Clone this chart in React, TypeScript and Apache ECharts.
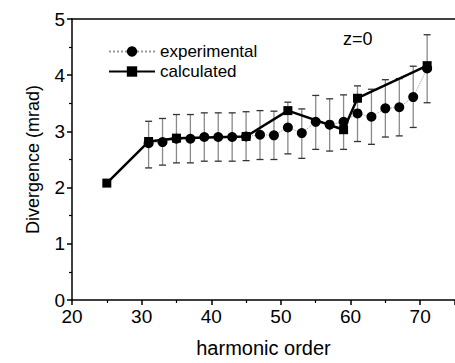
import React, { useEffect, useRef } from "react";
import * as echarts from "echarts";

const expOrders = [31, 33, 35, 37, 39, 41, 43, 45, 47, 49, 51, 53, 55, 57, 59, 61, 63, 65, 67, 69, 71];
const expValues = [2.79, 2.81, 2.87, 2.87, 2.9, 2.9, 2.9, 2.91, 2.94, 2.93, 3.07, 2.97, 3.17, 3.12, 3.17, 3.32, 3.26, 3.41, 3.43, 3.61, 4.12];
const expLow = [2.35, 2.4, 2.44, 2.44, 2.47, 2.47, 2.47, 2.48, 2.5, 2.5, 2.6, 2.52, 2.68, 2.65, 2.68, 2.82, 2.77, 2.9, 2.92, 3.07, 3.51];
const expHigh = [3.18, 3.23, 3.3, 3.3, 3.33, 3.33, 3.33, 3.35, 3.37, 3.36, 3.52, 3.4, 3.64, 3.58, 3.65, 3.81, 3.75, 3.92, 3.94, 4.16, 4.72];

const calcOrders = [25, 31, 35, 45, 51, 59, 61, 71];
const calcValues = [2.08, 2.82, 2.88, 2.91, 3.37, 3.03, 3.59, 4.17];

const FONT = "Liberation Sans, Arial, Helvetica, sans-serif";

export default function App() {
  const ref = useRef<HTMLDivElement>(null);
  useEffect(() => {
    if (!ref.current) return;
    const chart = echarts.init(ref.current, null, { renderer: "svg" });
    const errData = expOrders.map((x, i) => [x, expLow[i], expHigh[i]]);
    chart.setOption({
      animation: false,
      backgroundColor: "#fff",
      grid: { left: 72, top: 19, width: 385, height: 282.7, containLabel: false },
      legend: {
        orient: "vertical",
        left: 103,
        top: 38,
        itemWidth: 46,
        itemHeight: 13,
        itemGap: 3,
        textStyle: { fontFamily: FONT, fontSize: 17, color: "#000" },
        data: ["experimental", "calculated"],
      },
      graphic: [
        {
          type: "text",
          left: 343,
          top: 30,
          style: { text: "z=0", font: `18px ${FONT}`, fill: "#000" },
        },
      ],
      xAxis: [
        {
          type: "value",
          min: 20,
          max: 75,
          interval: 10,
          name: "harmonic order",
          nameLocation: "middle",
          nameGap: 38,
          nameTextStyle: { fontFamily: FONT, fontSize: 20, color: "#000" },
          axisLine: { show: true, lineStyle: { color: "#000", width: 1.5 } },
          axisTick: { show: true, length: 5, lineStyle: { color: "#000", width: 1.5 } },
          minorTick: { show: true, splitNumber: 2, length: 3, lineStyle: { color: "#000", width: 1.2 } },
          axisLabel: { fontFamily: FONT, fontSize: 19, color: "#000", margin: 7, showMaxLabel: false },
          splitLine: { show: false },
        },
        {
          type: "value",
          position: "top",
          min: 20,
          max: 75,
          axisLine: { show: true, onZero: false, lineStyle: { color: "#000", width: 1.5 } },
          axisTick: { show: false },
          axisLabel: { show: false },
          splitLine: { show: false },
        },
      ],
      yAxis: {
        type: "value",
        min: 0,
        max: 5,
        interval: 1,
        name: "Divergence (mrad)",
        nameLocation: "middle",
        nameGap: 30,
        nameTextStyle: { fontFamily: FONT, fontSize: 18, color: "#000" },
        axisLine: { show: true, lineStyle: { color: "#000", width: 1.5 } },
        axisTick: { show: true, length: 5, lineStyle: { color: "#000", width: 1.5 } },
        minorTick: { show: true, splitNumber: 2, length: 3, lineStyle: { color: "#000", width: 1.2 } },
        axisLabel: { fontFamily: FONT, fontSize: 19, color: "#000", margin: 7 },
        splitLine: { show: false },
      },
      series: [
        {
          type: "custom",
          name: "errors",
          z: 1,
          data: errData,
          renderItem: (params: any, api: any) => {
            const x = api.value(0);
            const lo = api.coord([x, api.value(1)]);
            const hi = api.coord([x, api.value(2)]);
            const hw = 3.5;
            return {
              type: "group",
              children: [
                { type: "line", shape: { x1: lo[0], y1: lo[1], x2: hi[0], y2: hi[1] }, style: { stroke: "#8a8a8a", lineWidth: 1.3 } },
                { type: "line", shape: { x1: lo[0] - hw, y1: lo[1], x2: lo[0] + hw, y2: lo[1] }, style: { stroke: "#333", lineWidth: 1.3 } },
                { type: "line", shape: { x1: hi[0] - hw, y1: hi[1], x2: hi[0] + hw, y2: hi[1] }, style: { stroke: "#333", lineWidth: 1.3 } },
              ],
            };
          },
        },
        {
          type: "line",
          name: "experimental",
          z: 3,
          data: expOrders.map((x, i) => [x, expValues[i]]),
          symbol: "circle",
          symbolSize: 10,
          itemStyle: { color: "#000" },
          lineStyle: { color: "#999", width: 1, type: "dotted" },
        },
        {
          type: "line",
          name: "calculated",
          z: 4,
          data: calcOrders.map((x, i) => [x, calcValues[i]]),
          symbol: "rect",
          symbolSize: 9,
          itemStyle: { color: "#000" },
          lineStyle: { color: "#000", width: 2.5 },
        },
      ],
    });
    return () => chart.dispose();
  }, []);
  return <div ref={ref} style={{ position: "fixed", left: 0, top: 0, width: 455, height: 363 }} />;
}
